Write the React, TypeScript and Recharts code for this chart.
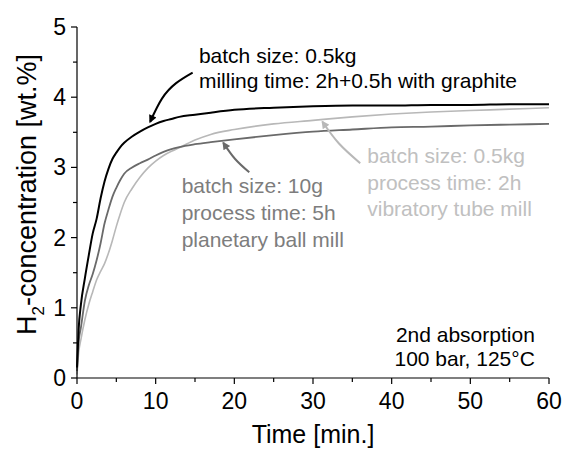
import { LineChart, Line, XAxis, YAxis, ReferenceDot } from 'recharts';

// time [min.]
const time = [0, 0.2, 0.5, 1, 1.5, 2, 2.5, 3, 3.5, 4, 4.5, 5, 5.5, 6, 7, 8, 9, 10, 11, 12, 13, 15, 17, 20, 25, 30, 35, 40, 45, 50, 55, 60];

// H2 concentration [wt.%]
const graphite05kg = [0.15, 0.68, 1.05, 1.42, 1.75, 2.06, 2.27, 2.56, 2.8, 2.98, 3.12, 3.21, 3.29, 3.35, 3.44, 3.51, 3.57, 3.62, 3.66, 3.69, 3.72, 3.75, 3.78, 3.82, 3.85, 3.87, 3.88, 3.88, 3.89, 3.89, 3.9, 3.9];
const planetary10g = [0.1, 0.5, 0.72, 1.1, 1.32, 1.48, 1.68, 1.92, 2.2, 2.4, 2.58, 2.71, 2.82, 2.91, 3.0, 3.06, 3.11, 3.17, 3.22, 3.26, 3.29, 3.33, 3.36, 3.4, 3.46, 3.51, 3.54, 3.57, 3.58, 3.6, 3.61, 3.62];
const vibratory05kg = [0.05, 0.35, 0.55, 0.83, 1.05, 1.23, 1.4, 1.52, 1.63, 1.78, 1.96, 2.16, 2.34, 2.5, 2.7, 2.86, 2.99, 3.09, 3.17, 3.23, 3.28, 3.39, 3.47, 3.54, 3.62, 3.67, 3.72, 3.76, 3.79, 3.81, 3.83, 3.85];

const xTicks = [0, 5, 10, 15, 20, 25, 30, 35, 40, 45, 50, 55, 60];
const yTicks = [0, 0.5, 1, 1.5, 2, 2.5, 3, 3.5, 4, 4.5, 5];

// annotation arrows (tail -> head), in data units
const arrowBlackT = [14.7, 12.6, 10.8, 9.3];
const arrowBlackV = [4.35, 4.2, 3.98, 3.65];
const arrowDarkT = [21.9, 20.1, 18.6];
const arrowDarkV = [2.93, 3.12, 3.35];
const arrowLightT = [36.0, 33.3, 31.2];
const arrowLightV = [3.06, 3.34, 3.65];

const textBlack = ['batch size: 0.5kg', 'milling time: 2h+0.5h with graphite'];
const textDark = ['batch size: 10g', 'process time: 5h', 'planetary ball mill'];
const textLight = ['batch size: 0.5kg', 'process time: 2h', 'vibratory tube mill'];
const textCond = ['2nd absorption', '100 bar, 125°C'];

const BLACK = '#000000';
const DARK = '#6a6a6a';
const LIGHT = '#b8b8b8';
const DARK_TXT = '#7d7d7d';
const LIGHT_TXT = '#c0c0c0';
const FONT = '"Liberation Sans", Arial, sans-serif';

const rows = time.map((t, i) => ({
  t,
  graphite: graphite05kg[i],
  planetary: planetary10g[i],
  vibratory: vibratory05kg[i],
}));

const toPts = (ts: number[], vs: number[]) => ts.map((t, i) => ({ t, v: vs[i] }));

function XTick({ x, y, payload }: any) {
  const major = payload.value % 10 === 0;
  return (
    <g>
      <line x1={x} y1={y} x2={x} y2={y + (major ? 6 : 4)} stroke="#000" strokeWidth={1.2} />
      {major && (
        <text x={x} y={y + 31} textAnchor="middle" fontSize={23} fontFamily={FONT} fill="#000">
          {payload.value}
        </text>
      )}
    </g>
  );
}

function YTick({ x, y, payload }: any) {
  const major = payload.value % 1 === 0;
  return (
    <g>
      <line x1={x - (major ? 6 : 4)} y1={y} x2={x} y2={y} stroke="#000" strokeWidth={1.2} />
      {major && (
        <text x={x - 11} y={y + 8} textAnchor="end" fontSize={23} fontFamily={FONT} fill="#000">
          {payload.value}
        </text>
      )}
    </g>
  );
}

const note = (lines: string[], color: string, gap: number, anchor: 'start' | 'end' = 'start') =>
  (p: any) => (
    <text x={p.cx} y={p.cy} fontSize={21} fontFamily={FONT} fill={color} textAnchor={anchor}>
      {lines.map((s, i) => (
        <tspan key={i} x={p.cx} dy={i === 0 ? 0 : gap}>
          {s}
        </tspan>
      ))}
    </text>
  );

export default function App() {
  return (
    <div style={{ position: 'absolute', left: 0, top: 0, background: '#fff' }}>
      <LineChart width={565} height={449} data={rows} margin={{ top: 27, right: 16, bottom: 0, left: 0 }}>
        <defs>
          {[['ahBlack', BLACK], ['ahDark', DARK], ['ahLight', LIGHT]].map(([id, c]) => (
            <marker key={id} id={id} viewBox="0 0 10 10" refX="8" refY="5" markerWidth="13" markerHeight="8"
              markerUnits="userSpaceOnUse" orient="auto">
              <path d="M0,0 L10,5 L0,10 z" fill={c} />
            </marker>
          ))}
        </defs>
        <XAxis
          xAxisId="b"
          dataKey="t"
          type="number"
          domain={[0, 60]}
          ticks={xTicks}
          interval={0}
          tickSize={0}
          tickMargin={0}
          tick={<XTick />}
          height={71}
          axisLine={{ stroke: '#000', strokeWidth: 1.2 }}
          label={(p: any) => {
            const vb = p.viewBox;
            return (
              <text x={vb.x + vb.width / 2} y={vb.y + 65} textAnchor="middle" fontSize={25} fontFamily={FONT} fill="#000">
                Time [min.]
              </text>
            );
          }}
        />
        <XAxis xAxisId="top" orientation="top" dataKey="t" type="number" domain={[0, 60]} height={0} tick={false} tickLine={false} axisLine={{ stroke: '#000', strokeWidth: 1.2 }} />
        <YAxis
          yAxisId="l"
          type="number"
          domain={[0, 5]}
          ticks={yTicks}
          interval={0}
          tickSize={0}
          tickMargin={0}
          tick={<YTick />}
          width={77}
          axisLine={{ stroke: '#000', strokeWidth: 1.2 }}
          label={(p: any) => {
            const vb = p.viewBox;
            const cx = 36;
            const cy = vb.y + vb.height / 2 - 8;
            return (
              <text x={cx} y={cy} transform={`rotate(-90 ${cx} ${cy})`} textAnchor="middle" fontSize={27} fontFamily={FONT} fill="#000">
                H<tspan fontSize={17} dy={8}>2</tspan>
                <tspan dy={-8}>-concentration [wt.%]</tspan>
              </text>
            );
          }}
        />
        <YAxis yAxisId="r" orientation="right" type="number" domain={[0, 5]} width={0} tick={false} tickLine={false} axisLine={{ stroke: '#000', strokeWidth: 1.2 }} />

        <Line xAxisId="b" yAxisId="l" dataKey="vibratory" stroke={LIGHT} strokeWidth={1.6} dot={false} type="monotone" isAnimationActive={false} />
        <Line xAxisId="b" yAxisId="l" dataKey="planetary" stroke={DARK} strokeWidth={1.8} dot={false} type="monotone" isAnimationActive={false} />
        <Line xAxisId="b" yAxisId="l" dataKey="graphite" stroke={BLACK} strokeWidth={2} dot={false} type="monotone" isAnimationActive={false} />

        <Line xAxisId="b" yAxisId="l" data={toPts(arrowBlackT, arrowBlackV)} dataKey="v" stroke={BLACK} strokeWidth={2} dot={false} type="natural" markerEnd="url(#ahBlack)" isAnimationActive={false} />
        <Line xAxisId="b" yAxisId="l" data={toPts(arrowDarkT, arrowDarkV)} dataKey="v" stroke={DARK} strokeWidth={2} dot={false} type="natural" markerEnd="url(#ahDark)" isAnimationActive={false} />
        <Line xAxisId="b" yAxisId="l" data={toPts(arrowLightT, arrowLightV)} dataKey="v" stroke={LIGHT} strokeWidth={2} dot={false} type="natural" markerEnd="url(#ahLight)" isAnimationActive={false} />

        <ReferenceDot xAxisId="b" yAxisId="l" x={15.5} y={4.49} r={0} shape={note(textBlack, BLACK, 25)} />
        <ReferenceDot xAxisId="b" yAxisId="l" x={13.3} y={2.64} r={0} shape={note(textDark, DARK_TXT, 27)} />
        <ReferenceDot xAxisId="b" yAxisId="l" x={36.9} y={3.06} r={0} shape={note(textLight, LIGHT_TXT, 26.5)} />
        <ReferenceDot xAxisId="b" yAxisId="l" x={58.2} y={0.51} r={0} shape={note(textCond, BLACK, 24, 'end')} />
      </LineChart>
    </div>
  );
}
